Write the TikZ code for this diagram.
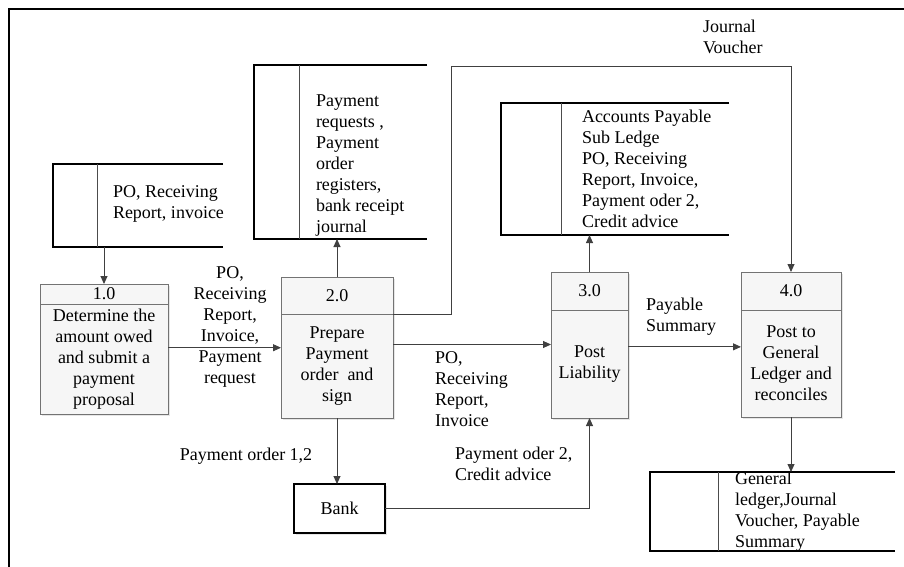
\documentclass[tikz,border=0pt]{standalone}
\usepackage{fontspec}
\setmainfont{Liberation Serif}
\usetikzlibrary{arrows.meta,shadows}

\begin{document}
\begin{tikzpicture}[x=1pt,y=-1pt,
                font=\fontsize{18}{21}\selectfont,
                every node/.style={outer sep=0pt},
                proc/.style={draw=black!55, fill=gray!7, line width=0.8pt, align=center, inner sep=0pt,
                    drop shadow={shadow xshift=1.5pt, shadow yshift=-1.5pt, opacity=0.2}},
                bankbox/.style={draw, fill=white, line width=1.6pt, inner sep=0pt,
                    drop shadow={shadow xshift=1.5pt, shadow yshift=-1.5pt, opacity=0.2}},
                store/.style={inner sep=0pt},
                storeline/.style={line width=1.6pt},
                storediv/.style={line width=0.9pt, black!70},
                storetext/.style={anchor=west, align=left, inner sep=0pt},
                flow/.style={draw=black!75, line width=0.9pt, -{Triangle[length=8pt,width=7pt]}},
                lbl/.style={align=center, inner sep=0pt}]
                \useasboundingbox (0,0) rectangle (904,567);
                \draw[line width=1.3pt] (904,9) -- (9,9) -- (9,567);

                \node[proc, minimum width=128, minimum height=20] (p1h) at (104,294) {1.0};
                \node[proc, minimum width=128, minimum height=110] (p1) at (104,359) {Determine the\\amount owed\\and submit a\\payment\\proposal};
                \node[proc, minimum width=112, minimum height=37] (p2h) at (337,295.5) {2.0};
                \node[proc, minimum width=112, minimum height=104] (p2) at (337,366) {Prepare\\Payment\\order\ \ and\\sign};
                \node[proc, minimum width=77, minimum height=38] (p3h) at (589.5,291) {3.0};
                \node[proc, minimum width=77, minimum height=108] (p3) at (589.5,364) {Post\\Liability};
                \node[proc, minimum width=100, minimum height=38] (p4h) at (791,291) {4.0};
                \node[proc, minimum width=100, minimum height=107] (p4) at (791,363.5) {Post to\\General\\Ledger and\\reconciles};
                \node[bankbox, minimum width=91, minimum height=49] (bank) at (339.5,508.5) {Bank};

                \node[store, minimum width=170, minimum height=83] (s1) at (138,205.5) {};
                \draw[storeline] (s1.north east) -- (s1.north west) -- (s1.south west) -- (s1.south east);
                \draw[storediv] ([xshift=44pt]s1.north west) -- ([xshift=44pt]s1.south west);
                \node[storetext] (s1t) at (113,204) {PO, Receiving\\Report, invoice};

                \node[store, minimum width=173, minimum height=174] (s2) at (340.5,152) {};
                \draw[storeline] (s2.north east) -- (s2.north west) -- (s2.south west) -- (s2.south east);
                \draw[storediv] ([xshift=45pt]s2.north west) -- ([xshift=45pt]s2.south west);
                \node[storetext] (s2t) at (316,165.5) {Payment\\requests ,\\Payment\\order\\registers,\\bank receipt\\journal};

                \node[store, minimum width=228, minimum height=132] (s3) at (615,169) {};
                \draw[storeline] (s3.north east) -- (s3.north west) -- (s3.south west) -- (s3.south east);
                \draw[storediv] ([xshift=60pt]s3.north west) -- ([xshift=60pt]s3.south west);
                \node[storetext] (s3t) at (582,169) {Accounts Payable\\Sub Ledge\\PO, Receiving\\Report, Invoice,\\Payment oder 2,\\Credit advice};

                \node[store, minimum width=245, minimum height=79] (s4) at (772.5,511.5) {};
                \draw[storeline] (s4.north east) -- (s4.north west) -- (s4.south west) -- (s4.south east);
                \draw[storediv] ([xshift=68pt]s4.north west) -- ([xshift=68pt]s4.south west);
                \node[storetext] (s4t) at (735,511.5) {General\\ledger,Journal\\Voucher, Payable\\Summary};

                \coordinate (jv) at (451,66);

                \draw[flow] (s1.south -| p1h.north) -- (p1h.north);
                \draw[flow] (p1.10) -- (p1.10 -| p2.west);
                \draw[flow] (p2h.north) -- (p2h.north |- s2.south);
                \draw[flow] (p2.21) -- (p2.21 -| p3.west);
                \draw[flow] (p3h.north) -- (p3h.north |- s3.south);
                \draw[flow] (p3.24) -- (p3.24 -| p4.west);
                \draw[flow] (p4.south) -- (p4.south |- s4.north);
                \draw[flow] (p2.south) -- (p2.south |- bank.north);
                \draw[flow] (bank.east) -| (p3.south);
                \draw[flow] (p2h.south east) -| (jv) -| (p4h.north);

                \node[lbl] (l12) at (230,327) {PO,\\Receiving\\Report,\\Invoice,\\Payment\\request};
                \node[lbl, align=left, anchor=west] (ljv) at (703,36.5) {Journal\\Voucher};
                \node[lbl, align=left, anchor=west] (l23) at (435,389) {PO,\\Receiving\\Report,\\Invoice};
                \node[lbl, align=left, anchor=west] (l34) at (646,317) {Payable\\Summary};
                \node[lbl] (lbank) at (246,456) {Payment order 1,2};
                \node[lbl, align=left, anchor=west] (lb3) at (455,463.5) {Payment oder 2,\\Credit advice};
            \end{tikzpicture}
\end{document}
